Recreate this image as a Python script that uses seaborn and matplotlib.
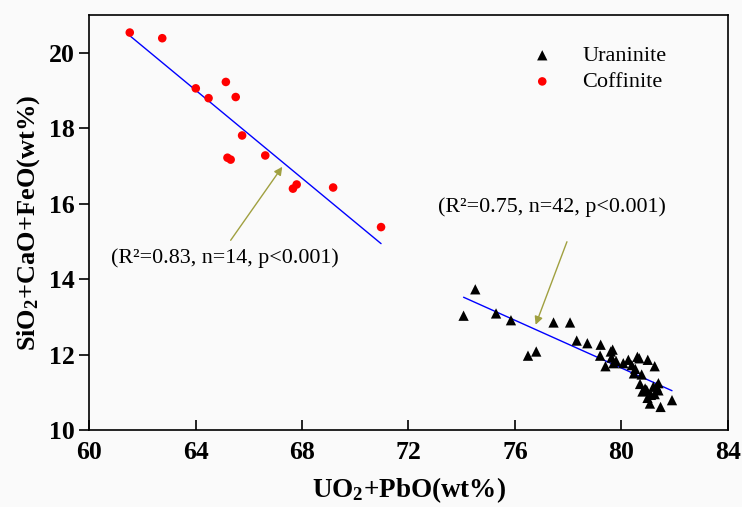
import numpy as np
import pandas as pd
import matplotlib
matplotlib.use('Agg')
import matplotlib.pyplot as plt
import seaborn as sns

# ------------------------
# Data
# ------------------------
coff_x = [61.53, 62.75, 64.01, 64.49, 65.14, 65.51, 65.75, 65.20, 65.32, 66.62,
          67.80, 67.66, 69.17, 70.97]
coff_y = [20.54, 20.39, 19.06, 18.80, 19.23, 18.83, 17.81, 17.22, 17.17, 17.28,
          16.51, 16.40, 16.43, 15.38]

uran_x = [74.07, 74.51, 75.29, 75.85, 76.49, 76.80, 77.45, 78.07, 78.32, 78.72,
          79.22, 79.20, 79.40, 79.60, 79.67, 79.63, 79.70, 80.07, 80.26, 80.39,
          80.60, 80.67, 80.99, 81.25, 80.47, 80.76, 80.70, 80.95, 81.32, 81.39,
          81.11, 80.98, 81.25, 81.07, 81.47, 81.90, 81.39, 81.20, 80.89, 80.79,
          79.80, 80.52]
uran_y = [13.03, 13.73, 13.09, 12.91, 11.97, 12.08, 12.85, 12.85, 12.37, 12.30,
          12.26, 11.97, 11.69, 12.08, 12.13, 11.92, 11.77, 11.77, 11.86, 11.72,
          11.94, 11.90, 11.86, 11.69, 11.50, 11.47, 11.22, 11.06, 11.15, 11.05,
          10.93, 10.85, 10.95, 10.70, 10.61, 10.79, 11.24, 11.15, 11.10, 11.02,
          11.83, 11.62]

x_ticks = [60, 64, 68, 72, 76, 80, 84]
y_ticks = [10, 12, 14, 16, 18, 20]

coff_label = "(R\u00b2=0.83, n=14, p<0.001)"
uran_label = "(R\u00b2=0.75, n=42, p<0.001)"

df_c = pd.DataFrame({'x': coff_x, 'y': coff_y})
df_u = pd.DataFrame({'x': uran_x, 'y': uran_y})

# ------------------------
# Style
# ------------------------
sns.set_style("ticks")
plt.rcParams['font.family'] = ['Liberation Serif', 'DejaVu Serif']
plt.rcParams['mathtext.fontset'] = 'custom'
plt.rcParams['mathtext.rm'] = 'Liberation Serif:bold'
plt.rcParams['mathtext.default'] = 'rm'
for key in ['text.color', 'axes.labelcolor', 'xtick.color', 'ytick.color', 'axes.edgecolor']:
    plt.rcParams[key] = 'black'

fig = plt.figure(figsize=(7.42, 5.07), dpi=100, facecolor='#fafafa')
ax = fig.add_axes([0.12, 0.152, 0.861, 0.818])
ax.set_facecolor('#fafafa')

# points
sns.scatterplot(data=df_u, x='x', y='y', marker='^', color='black', s=55,
                edgecolor='none', label='Uraninite', ax=ax, zorder=3)
sns.scatterplot(data=df_c, x='x', y='y', marker='o', color='red', s=38,
                edgecolor='none', label='Coffinite', ax=ax, zorder=3)

# fitted lines
sns.regplot(data=df_c, x='x', y='y', scatter=False, ci=None, ax=ax,
            line_kws={'color': 'blue', 'lw': 1.0})
sns.regplot(data=df_u, x='x', y='y', scatter=False, ci=None, ax=ax,
            line_kws={'color': 'blue', 'lw': 1.0})

# annotations
arrow_kw = dict(arrowstyle='-|>', color='#a0a040', lw=1.0, mutation_scale=12)
ax.annotate('', xy=(67.32, 17.04), xytext=(65.26, 14.97), arrowprops=arrow_kw)
ax.text(60.82, 14.57, coff_label, fontsize=15.8, va='center', ha='left')
ax.annotate('', xy=(76.74, 12.72), xytext=(77.99, 15.06), arrowprops=arrow_kw)
ax.text(73.12, 15.9, uran_label, fontsize=15.8, va='center', ha='left')

ax.set_xlim(60, 84)
ax.set_ylim(10, 21)
ax.set_xticks(x_ticks)
ax.set_yticks(y_ticks)
ax.tick_params(axis='x', direction='in', length=7, width=1.2, labelsize=18.5, pad=8)
ax.tick_params(axis='y', direction='out', length=7, width=1.2, labelsize=18.5)
for lab in ax.get_xticklabels() + ax.get_yticklabels():
    lab.set_fontweight('bold')
for sp in ax.spines.values():
    sp.set_visible(True)
    sp.set_linewidth(1.2)

ax.set_xlabel('UO$_2$+PbO(wt%)', fontsize=19.5, fontweight='bold', labelpad=8)
ax.set_ylabel('SiO$_2$+CaO+FeO(wt%)', fontsize=19, fontweight='bold', labelpad=5)

leg = ax.legend(loc='upper right', bbox_to_anchor=(0.935, 0.975), frameon=False,
                fontsize=16, handletextpad=0.8, labelspacing=0.25)

plt.savefig('out.png', dpi=100, facecolor=fig.get_facecolor())
plt.close()
